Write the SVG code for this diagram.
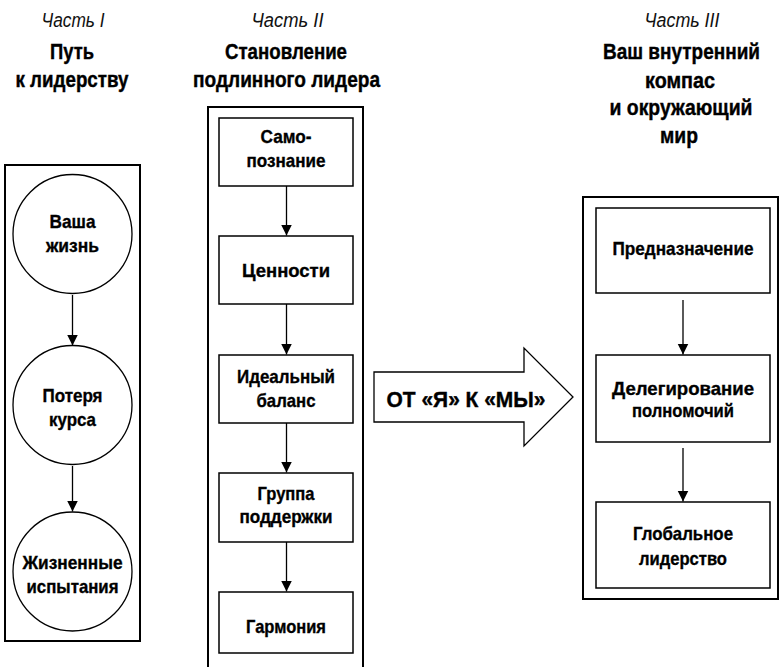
<svg xmlns="http://www.w3.org/2000/svg" width="780" height="667" viewBox="0 0 780 667">
<style>
.cont{fill:none;stroke:#000;stroke-width:2}
.box{fill:#fff;stroke:#000;stroke-width:1.5}
.circ{fill:#fff;stroke:#000;stroke-width:1.3}
.edge{fill:none;stroke:#000;stroke-width:1.3}
.t{font-family:"Liberation Sans",Arial,sans-serif;font-weight:bold;font-size:19px;fill:#000;stroke:#000;stroke-width:0.35;text-anchor:middle}
.h{font-family:"Liberation Sans",Arial,sans-serif;font-weight:bold;font-size:22px;fill:#000;stroke:#000;stroke-width:0.4;text-anchor:middle}
.p{font-family:"Liberation Sans",Arial,sans-serif;font-style:italic;font-size:19.5px;fill:#111;text-anchor:middle}
</style>
<defs>
<marker id="ah" markerUnits="userSpaceOnUse" markerWidth="12" markerHeight="12" refX="11" refY="5.5" orient="auto">
<path d="M0,0 L11,5.5 L0,11 z" fill="#000"/>
</marker>
</defs>
<rect width="780" height="667" fill="#fff"/>

<g id="part1-title">
<text class="p" x="73" y="27" textLength="63" lengthAdjust="spacingAndGlyphs">Часть I</text>
<text class="h" x="72" y="58.5" textLength="44" lengthAdjust="spacingAndGlyphs">Путь</text>
<text class="h" x="72" y="87" textLength="113" lengthAdjust="spacingAndGlyphs">к лидерству</text>
</g>
<g id="part2-title">
<text class="p" x="287.5" y="27" textLength="72" lengthAdjust="spacingAndGlyphs">Часть II</text>
<text class="h" x="286" y="58.5" textLength="122" lengthAdjust="spacingAndGlyphs">Становление</text>
<text class="h" x="286.5" y="87" textLength="187" lengthAdjust="spacingAndGlyphs">подлинного лидера</text>
</g>
<g id="part3-title">
<text class="p" x="682" y="27" textLength="75" lengthAdjust="spacingAndGlyphs">Часть III</text>
<text class="h" x="681.5" y="59" textLength="157" lengthAdjust="spacingAndGlyphs">Ваш внутренний</text>
<text class="h" x="680" y="88" textLength="70" lengthAdjust="spacingAndGlyphs">компас</text>
<text class="h" x="681" y="115" textLength="143" lengthAdjust="spacingAndGlyphs">и окружающий</text>
<text class="h" x="679" y="143" textLength="38" lengthAdjust="spacingAndGlyphs">мир</text>
</g>

<g id="containers">
<rect class="cont" x="5" y="165" width="135" height="476"/>
<rect class="cont" x="208" y="107" width="155" height="580"/>
<rect class="cont" x="583" y="197" width="195" height="402"/>
</g>

<g id="connectors">
<line class="edge" x1="72.5" y1="295" x2="72.5" y2="345.5" marker-end="url(#ah)"/>
<line class="edge" x1="72.5" y1="466" x2="72.5" y2="511.5" marker-end="url(#ah)"/>
<line class="edge" x1="286.5" y1="186" x2="286.5" y2="235.5" marker-end="url(#ah)"/>
<line class="edge" x1="286.5" y1="304" x2="286.5" y2="354.5" marker-end="url(#ah)"/>
<line class="edge" x1="286.5" y1="423" x2="286.5" y2="472.5" marker-end="url(#ah)"/>
<line class="edge" x1="286.5" y1="542" x2="286.5" y2="591.5" marker-end="url(#ah)"/>
<line class="edge" x1="683" y1="300" x2="683" y2="354.5" marker-end="url(#ah)"/>
<line class="edge" x1="683" y1="448" x2="683" y2="501.5" marker-end="url(#ah)"/>
</g>

<g id="n-vasha-zhizn">
<circle class="circ" cx="72.5" cy="234" r="59.5"/>
<text class="t" x="72.5" y="228" textLength="46" lengthAdjust="spacingAndGlyphs">Ваша</text>
<text class="t" x="72.5" y="252" textLength="53" lengthAdjust="spacingAndGlyphs">жизнь</text>
</g>
<g id="n-poterya-kursa">
<circle class="circ" cx="72.5" cy="405" r="59.5"/>
<text class="t" x="72.5" y="402" textLength="60" lengthAdjust="spacingAndGlyphs">Потеря</text>
<text class="t" x="72.5" y="426" textLength="47" lengthAdjust="spacingAndGlyphs">курса</text>
</g>
<g id="n-zhiznennye-ispytaniya">
<circle class="circ" cx="72.5" cy="571.5" r="59.5"/>
<text class="t" x="72.5" y="569" textLength="100" lengthAdjust="spacingAndGlyphs">Жизненные</text>
<text class="t" x="72.5" y="593" textLength="92" lengthAdjust="spacingAndGlyphs">испытания</text>
</g>

<g id="n-samopoznanie">
<rect class="box" x="219" y="118" width="134" height="68"/>
<text class="t" x="286" y="143" textLength="51" lengthAdjust="spacingAndGlyphs">Само-</text>
<text class="t" x="286" y="167" textLength="79" lengthAdjust="spacingAndGlyphs">познание</text>
</g>
<g id="n-cennosti">
<rect class="box" x="219" y="236" width="134" height="68"/>
<text class="t" x="286" y="277" textLength="88" lengthAdjust="spacingAndGlyphs">Ценности</text>
</g>
<g id="n-idealny-balans">
<rect class="box" x="219" y="355" width="134" height="68"/>
<text class="t" x="286" y="383" textLength="98" lengthAdjust="spacingAndGlyphs">Идеальный</text>
<text class="t" x="286" y="407" textLength="59" lengthAdjust="spacingAndGlyphs">баланс</text>
</g>
<g id="n-gruppa-podderzhki">
<rect class="box" x="219" y="473" width="134" height="69"/>
<text class="t" x="286" y="500" textLength="57" lengthAdjust="spacingAndGlyphs">Группа</text>
<text class="t" x="286" y="523" textLength="93" lengthAdjust="spacingAndGlyphs">поддержки</text>
</g>
<g id="n-garmoniya">
<rect class="box" x="219" y="592" width="134" height="61"/>
<text class="t" x="286" y="633" textLength="80" lengthAdjust="spacingAndGlyphs">Гармония</text>
</g>

<g id="n-ot-ya-k-my">
<polygon class="edge" points="374,372 524,372 524,348 573,397 524,446 524,422 374,422" fill="#fff"/>
<text class="h" x="466" y="407" textLength="159" lengthAdjust="spacingAndGlyphs">ОТ «Я» К «МЫ»</text>
</g>

<g id="n-prednaznachenie">
<rect class="box" x="596" y="208" width="174" height="85"/>
<text class="t" x="683" y="255" textLength="141" lengthAdjust="spacingAndGlyphs">Предназначение</text>
</g>
<g id="n-delegirovanie">
<rect class="box" x="596" y="355" width="174" height="87"/>
<text class="t" x="683" y="395" textLength="142" lengthAdjust="spacingAndGlyphs">Делегирование</text>
<text class="t" x="683" y="417" textLength="102" lengthAdjust="spacingAndGlyphs">полномочий</text>
</g>
<g id="n-globalnoe">
<rect class="box" x="596" y="502" width="174" height="86"/>
<text class="t" x="683" y="540" textLength="100" lengthAdjust="spacingAndGlyphs">Глобальное</text>
<text class="t" x="683" y="565" textLength="88" lengthAdjust="spacingAndGlyphs">лидерство</text>
</g>
</svg>
